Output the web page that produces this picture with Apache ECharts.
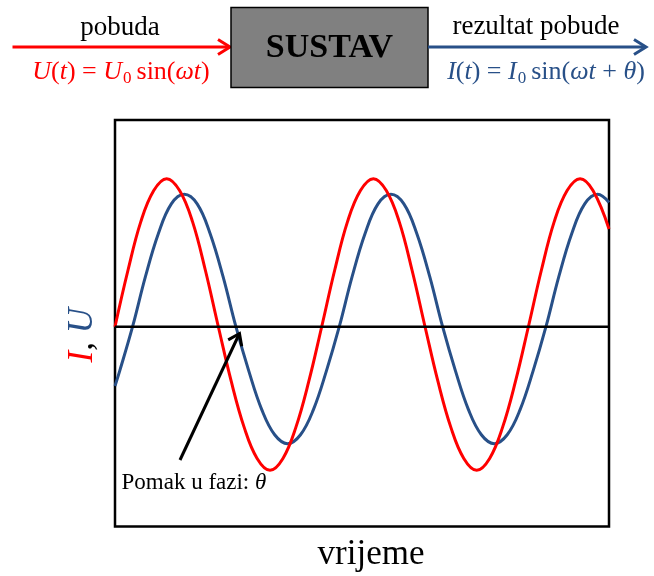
<!DOCTYPE html>
<html>
<head>
<meta charset="utf-8">
<script src="https://cdn.jsdelivr.net/npm/echarts@6/dist/echarts.min.js"></script>
<style>html,body{margin:0;padding:0;background:#fff;}#c{width:654px;height:576px;}</style>
</head>
<body>
<div id="c"></div>
<script>
// Data (time in arbitrary units, amplitude relative to U peak)
const timeU = [0,0.625,1.25,1.875,2.5,3.125,3.75,4.375,5,5.625,6.25,6.875,7.5,8.125,8.75,9.375,10,10.625,11.25,11.875,12.5,13.125,13.75,14.375,15,15.625,16.25,16.875,17.5,18.125,18.75,19.375,20,20.625,21.25,21.875,22.5,23.125,23.9];
const valuesU = [0,0.38,0.71,0.92,1.0,0.92,0.71,0.38,0,-0.37,-0.68,-0.89,-0.97,-0.89,-0.68,-0.37,0,0.38,0.71,0.92,1.0,0.92,0.71,0.38,0,-0.37,-0.68,-0.89,-0.97,-0.89,-0.68,-0.37,0,0.38,0.71,0.92,1.0,0.92,0.66];
const timeI = [0,0.225,0.85,1.475,2.1,2.725,3.35,3.975,4.6,5.225,5.85,6.475,7.1,7.725,8.35,8.975,9.6,10.225,10.85,11.475,12.1,12.725,13.35,13.975,14.6,15.225,15.85,16.475,17.1,17.725,18.35,18.975,19.6,20.225,20.85,21.475,22.1,22.725,23.35,23.9];
const valuesI = [-0.40,-0.30,0,0.34,0.63,0.83,0.895,0.83,0.63,0.34,0,-0.30,-0.56,-0.73,-0.79,-0.73,-0.56,-0.30,0,0.34,0.63,0.83,0.895,0.83,0.63,0.34,0,-0.30,-0.56,-0.73,-0.79,-0.73,-0.56,-0.30,0,0.34,0.63,0.83,0.895,0.84];
const timeRange = [0, 23.9];
const ampRange = [-1.35, 1.397];
const baseline = [[0,0],[23.9,0]];

const RED = '#ff0000';
const BLUE = '#285088';
const SERIF = '"Liberation Serif", "Times New Roman", serif';

const chart = echarts.init(document.getElementById('c'), null, {renderer: 'canvas'});

function fStyle(color) {
  return {
    it: {fill: color, fontFamily: SERIF, fontStyle: 'italic', fontSize: 26, lineHeight: 30},
    rm: {fill: color, fontFamily: SERIF, fontSize: 26, lineHeight: 30},
    sub: {fill: color, fontFamily: SERIF, fontSize: 17, lineHeight: 2, verticalAlign: 'bottom', padding: [0, 5, 0, 1]}
  };
}

const option = {
  animation: false,
  backgroundColor: '#fff',
  grid: {left: 115, top: 120, right: 45, bottom: 49.5, outerBoundsMode: 'none', containLabel: false,
         show: true, borderColor: '#000', borderWidth: 2.5, backgroundColor: 'transparent'},
  xAxis: {
    type: 'value', min: timeRange[0], max: timeRange[1],
    axisLine: {show: false}, axisTick: {show: false}, axisLabel: {show: false}, splitLine: {show: false},
    name: 'vrijeme', nameLocation: 'middle', nameGap: 11,
    nameTextStyle: {fontFamily: SERIF, fontSize: 35, color: '#000', padding: [0, 0, 0, 18]}
  },
  yAxis: {
    type: 'value', min: ampRange[0], max: ampRange[1],
    axisLine: {show: false}, axisTick: {show: false}, axisLabel: {show: false}, splitLine: {show: false},
    name: '{i|I}{c|, }{u|U}', nameLocation: 'middle', nameRotate: 90, nameGap: 15,
    nameTextStyle: {
      fontFamily: SERIF, fontSize: 35, padding: [0, 24, 0, 0],
      rich: {
        i: {color: RED, fontFamily: SERIF, fontStyle: 'italic', fontSize: 35},
        c: {color: '#000', fontFamily: SERIF, fontStyle: 'italic', fontSize: 35},
        u: {color: BLUE, fontFamily: SERIF, fontStyle: 'italic', fontSize: 35}
      }
    }
  },
  series: [
    {type: 'line', name: 'I', data: timeI.map((t, i) => [t, valuesI[i]]), showSymbol: false, smooth: 0.4,
     lineStyle: {color: BLUE, width: 3}, z: 2},
    {type: 'line', name: 'U', data: timeU.map((t, i) => [t, valuesU[i]]), showSymbol: false, smooth: 0.4,
     lineStyle: {color: RED, width: 3}, z: 3},
    {type: 'line', name: 'zero', data: baseline, showSymbol: false,
     lineStyle: {color: '#000', width: 2.5}, z: 4}
  ],
  graphic: [
    // input arrow
    {type: 'line', z: 100, shape: {x1: 12.5, y1: 47, x2: 229, y2: 47}, style: {stroke: RED, lineWidth: 3}},
    {type: 'polyline', z: 100, shape: {points: [[218, 39.5], [230, 47], [218, 54.5]]}, style: {stroke: RED, lineWidth: 3, fill: null}},
    // system box
    {type: 'rect', z: 100, shape: {x: 231, y: 7.5, width: 197, height: 80}, style: {fill: '#808080', stroke: '#000', lineWidth: 1.5}},
    {type: 'text', z: 101, style: {text: 'SUSTAV', x: 329.5, y: 48.5, align: 'center', verticalAlign: 'middle', fill: '#000', fontFamily: SERIF, fontWeight: 'bold', fontSize: 34}},
    // output arrow
    {type: 'line', z: 100, shape: {x1: 428, y1: 47, x2: 645, y2: 47}, style: {stroke: BLUE, lineWidth: 3}},
    {type: 'polyline', z: 100, shape: {points: [[634, 39.5], [646, 47], [634, 54.5]]}, style: {stroke: BLUE, lineWidth: 3, fill: null}},
    // labels
    {type: 'text', z: 100, style: {text: 'pobuda', x: 120, y: 28, align: 'center', verticalAlign: 'middle', fill: '#000', fontFamily: SERIF, fontSize: 27}},
    {type: 'text', z: 100, style: {text: 'rezultat pobude', x: 536, y: 27, align: 'center', verticalAlign: 'middle', fill: '#000', fontFamily: SERIF, fontSize: 27}},
    {type: 'text', z: 100, style: {text: '{it|U}{rm|(}{it|t}{rm|) = }{it|U}{sub|0}{rm|sin(}{it|ωt}{rm|)}', x: 121, y: 72, align: 'center', verticalAlign: 'middle', rich: fStyle(RED)}},
    {type: 'text', z: 100, style: {text: '{it|I}{rm|(}{it|t}{rm|) = }{it|I}{sub|0}{rm|sin(}{it|ωt}{rm| + }{it|θ}{rm|)}', x: 546, y: 72, align: 'center', verticalAlign: 'middle', rich: fStyle(BLUE)}},
    // phase shift annotation
    {type: 'line', z: 100, shape: {x1: 180, y1: 460, x2: 238.5, y2: 335.5}, style: {stroke: '#000', lineWidth: 3}},
    {type: 'polyline', z: 100, shape: {points: [[228.2, 339.9], [239.5, 333.5], [241.7, 346.3]]}, style: {stroke: '#000', lineWidth: 3, fill: null}},
    {type: 'text', z: 100, style: {text: 'Pomak u fazi: {th|θ}', x: 121.5, y: 483, align: 'left', verticalAlign: 'middle', fill: '#000', fontFamily: SERIF, fontSize: 23,
      rich: {th: {fill: '#000', fontFamily: SERIF, fontStyle: 'italic', fontSize: 23}}}}
  ]
};
chart.setOption(option);
</script>
</body>
</html>
